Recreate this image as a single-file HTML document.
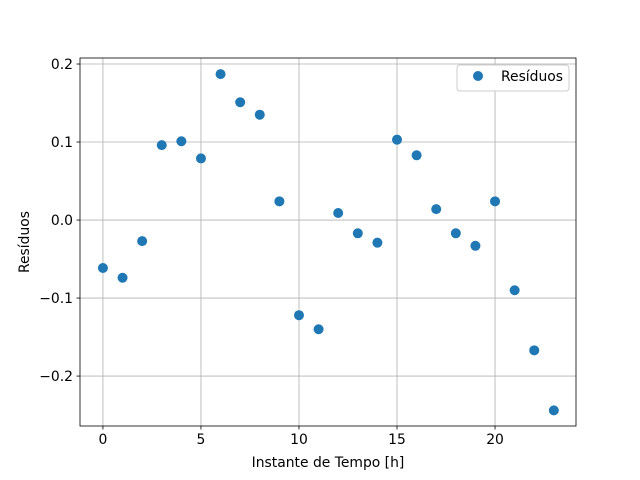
<!DOCTYPE html>
<html><head><meta charset="utf-8"><style>
body{margin:0;background:#fff;}
svg{display:block;font-family:"DejaVu Sans","Liberation Sans",sans-serif;}
</style></head><body>
<svg id="chart" width="640" height="480">
<rect x="0" y="0" width="640" height="480" fill="#fff"/>
<g id="grid"></g><g id="ticks"></g><g id="points"></g>
<rect x="80" y="58" width="496" height="368" fill="none" stroke="#000" stroke-width="0.8"/>
<text x="328" y="467" font-size="13.9" text-anchor="middle">Instante de Tempo [h]</text>
<text x="0" y="0" font-size="13.9" text-anchor="middle" transform="translate(29,242) rotate(-90)">Resíduos</text>
<g>
<rect x="457" y="65" width="112" height="26" rx="3" fill="#fff" stroke="#ccc" stroke-width="1"/>
<circle cx="478" cy="76" r="5" fill="#1f77b4"/>
<text x="501" y="81" font-size="13.9">Resíduos</text>
</g>
</svg>
<script>
const hours=[0,1,2,3,4,5,6,7,8,9,10,11,12,13,14,15,16,17,18,19,20,21,22,23];
const residuals=[-0.0615,-0.074,-0.027,0.096,0.101,0.079,0.187,0.151,0.135,0.024,-0.122,-0.140,0.009,-0.017,-0.029,0.103,0.083,0.014,-0.017,-0.033,0.024,-0.090,-0.167,-0.244];
const xTicks=[0,5,10,15,20];
const yTicks=[-0.2,-0.1,0.0,0.1,0.2];
const yTickLabels=["\u22120.2","\u22120.1","0.0","0.1","0.2"];
const X0=80,X1=576,Y0=58,Y1=426,xmin=-1.17,xmax=24.13,ymin=-0.264,ymax=0.2077;
const sx=v=>X0+(v-xmin)/(xmax-xmin)*(X1-X0);
const sy=v=>Y1-(v-ymin)/(ymax-ymin)*(Y1-Y0);
const NS="http://www.w3.org/2000/svg";
const g=document.getElementById('grid'),t=document.getElementById('ticks'),p=document.getElementById('points');
function mk(tag,attrs,parent){const e=document.createElementNS(NS,tag);for(const k in attrs)e.setAttribute(k,attrs[k]);parent.appendChild(e);return e;}
xTicks.forEach(v=>{const x=sx(v);
const l=mk('line',{x1:x,x2:x,y1:Y0,y2:Y1,stroke:'#b0b0b0','stroke-width':0.8},g);


mk('line',{x1:x,x2:x,y1:Y1,y2:Y1+3.5,stroke:'#000','stroke-width':0.8},t);
const tx=mk('text',{x:x,y:Y1+18,'font-size':13.9,'text-anchor':'middle'},t);tx.textContent=v;

});
yTicks.forEach((v,i)=>{const y=sy(v);
const l=mk('line',{x1:X0,x2:X1,y1:y,y2:y,stroke:'#b0b0b0','stroke-width':0.8},g);


mk('line',{x1:X0-3.5,x2:X0,y1:y,y2:y,stroke:'#000','stroke-width':0.8},t);
const tx=mk('text',{x:X0-7,y:y+5,'font-size':13.9,'text-anchor':'end'},t);tx.textContent=yTickLabels[i];

});
hours.forEach((h,i)=>{const c=mk('circle',{cx:sx(h),cy:sy(residuals[i]),r:5,fill:'#1f77b4'},p);

});
</script>
</body></html>
